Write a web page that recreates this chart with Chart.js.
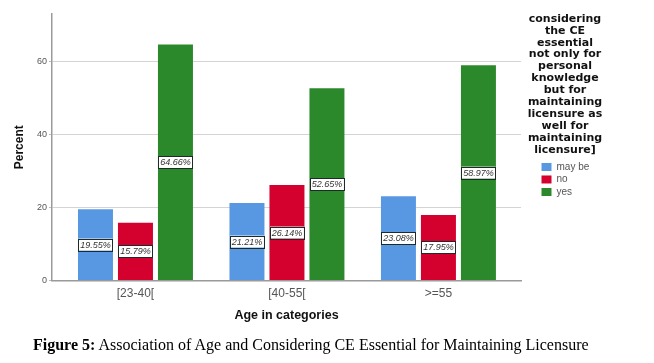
<!DOCTYPE html>
<html>
<head>
<meta charset="utf-8">
<script src="https://cdn.jsdelivr.net/npm/chart.js@4.4.1/dist/chart.umd.min.js"></script>
<style>
  html, body { margin: 0; padding: 0; background: #fff; }
  #wrap { position: relative; width: 654px; height: 363px; overflow: hidden; }
  #c { position: absolute; left: 0; top: 0; }
  #caption { position: absolute; left: 33px; top: 336px; white-space: nowrap;
    font-family: "Liberation Serif", "Times New Roman", serif; font-size: 16px; line-height: 17px; color: #000; }
</style>
</head>
<body>
<div id="wrap">
  <canvas id="c" width="654" height="363"></canvas>
  <div id="caption"><b>Figure 5:</b> Association of Age and Considering CE Essential for Maintaining Licensure</div>
</div>
<script>
const categories = ['[23-40[', '[40-55[', '>=55'];
const seriesNames = ['may be', 'no', 'yes'];
const mayBe = [19.55, 21.21, 23.08];
const no = [15.79, 26.14, 17.95];
const yes = [64.66, 52.65, 58.97];
const yTicks = [0, 20, 40, 60];
const legendTitle = ['considering', 'the CE', 'essential', 'not only for', 'personal',
  'knowledge', 'but for', 'maintaining', 'licensure as', 'well for', 'maintaining', 'licensure]'];
const xTitle = 'Age in categories';
const yTitle = 'Percent';

const colors = ['#5898e2', '#d4002e', '#2b892b'];
const series = [mayBe, no, yes];

const toPoints = arr => arr.map((v, i) => ({ x: i, y: v }));

const valueLabels = {
  id: 'valueLabels',
  afterDatasetsDraw(chart) {
    const ctx = chart.ctx;
    ctx.save();
    ctx.font = 'italic 9px "Liberation Sans", Arial, sans-serif';
    ctx.textAlign = 'center';
    ctx.textBaseline = 'middle';
    chart.data.datasets.forEach((ds, di) => {
      const meta = chart.getDatasetMeta(di);
      meta.data.forEach((el, i) => {
        const v = series[di][i];
        const txt = v.toFixed(2) + '%';
        const cx = el.x;
        const cy = (el.y + el.base) / 2;
        const w = 34, h = 12;
        ctx.fillStyle = '#fff';
        ctx.fillRect(cx - w / 2, cy - h / 2, w, h);
        ctx.strokeStyle = '#1e2a2a';
        ctx.lineWidth = 1;
        ctx.strokeRect(Math.round(cx - w / 2) + 0.5, Math.round(cy - h / 2) + 0.5, w, h);
        ctx.fillStyle = '#333';
        ctx.fillText(txt, cx, cy + 0.5);
      });
    });
    ctx.restore();
  }
};

const legendPlace = {
  id: 'legendPlace',
  beforeLayout(chart) {
    const lg = chart.legend;
    if (lg && !lg._patched) {
      const f = lg.fit;
      lg.fit = function () { f.call(this); this.width = 133; };
      lg.draw = function () { if (this.options.display) this._draw(); };
      lg._patched = true;
    }
  },
  afterLayout(chart) {
    const lg = chart.legend;
    if (!lg) return;
    lg.left = 539;
    lg.width = 52;
    lg.right = 591;
    lg.top = 0;
  }
};

new Chart(document.getElementById('c'), {
  type: 'bar',
  data: {
    datasets: series.map((s, i) => ({
      label: seriesNames[i],
      data: toPoints(s),
      backgroundColor: colors[i],
      borderWidth: 0,
      categoryPercentage: 0.792,
      barPercentage: 0.875
    }))
  },
  options: {
    responsive: false,
    animation: false,
    layout: { padding: { left: 0, right: 0, top: 14, bottom: 38.5 } },
    scales: {
      x: {
        type: 'linear',
        offset: false,
        min: -0.551,
        max: 2.545,
        afterBuildTicks(scale) { scale.ticks = categories.map((c, i) => ({ value: i })); },
        afterFit(scale) { scale.height = 44; },
        grid: { display: true, color: 'rgba(0,0,0,0)', drawTicks: false },
        border: { display: true, color: '#9a9a9a', width: 1.5 },
        ticks: {
          padding: 6,
          color: '#555',
          font: { family: '"Liberation Sans", Arial, sans-serif', size: 12 },
          maxRotation: 0,
          autoSkip: false,
          callback: (v) => categories[v] !== undefined ? categories[v] : ''
        },
        title: {
          display: true, text: xTitle, color: '#111',
          font: { family: '"Liberation Sans", Arial, sans-serif', size: 12.5, weight: 'bold' },
          padding: { top: 1, bottom: 1 }
        }
      },
      y: {
        min: 0,
        max: 73,
        afterBuildTicks(scale) { scale.ticks = yTicks.map(v => ({ value: v })); },
        afterFit(scale) { scale.width = 52; },
        grid: { color: '#d4d4d4', lineWidth: 1, tickLength: 3, tickColor: '#bbb' },
        border: { display: true, color: '#9a9a9a', width: 1.5 },
        ticks: {
          padding: 2,
          color: '#555',
          font: { family: '"Liberation Sans", Arial, sans-serif', size: 9 }
        },
        title: {
          display: true, text: yTitle, color: '#111',
          font: { family: '"Liberation Sans", Arial, sans-serif', size: 12, weight: 'bold' },
          padding: { top: 12.8, bottom: 0 }
        }
      }
    },
    plugins: {
      tooltip: { enabled: false },
      legend: {
        display: true,
        position: 'right',
        align: 'start',
        labels: {
          boxWidth: 10,
          boxHeight: 8,
          padding: 2.5,
          color: '#555',
          font: { family: '"Liberation Sans", Arial, sans-serif', size: 10 }
        },
        title: {
          display: true,
          text: legendTitle,
          color: '#111',
          font: { family: '"DejaVu Sans", sans-serif', size: 11, weight: 'bold', lineHeight: 1.08 },
          padding: { top: 13.5, bottom: 134.1 }
        }
      }
    }
  },
  plugins: [valueLabels, legendPlace]
});
</script>
</body>
</html>
